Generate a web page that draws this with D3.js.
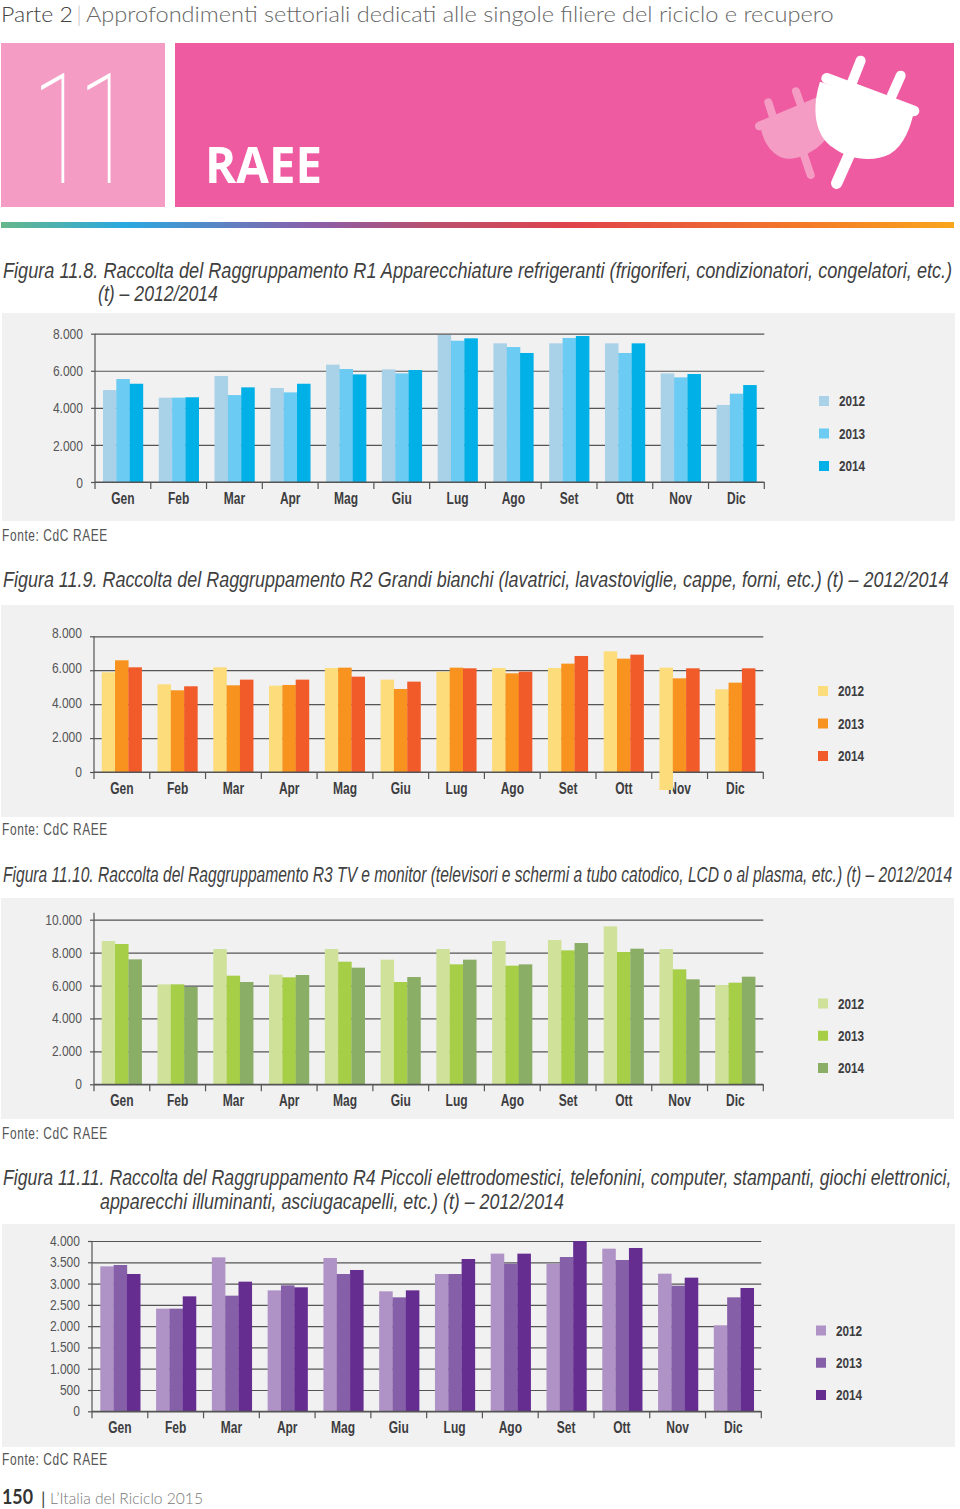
<!DOCTYPE html>
<html><head><meta charset="utf-8">
<script src="https://cdn.jsdelivr.net/npm/d3@7/dist/d3.min.js"></script>
<style>
html,body{margin:0;padding:0;background:#fff}
svg{display:block}
text{font-family:"Liberation Sans",sans-serif}
.domain{stroke:#555;stroke-width:1.2}
.tick line{stroke:#555;stroke-width:1.2}
</style></head><body><div id="c"></div>
<script>
const months=["Gen","Feb","Mar","Apr","Mag","Giu","Lug","Ago","Set","Ott","Nov","Dic"];
const years=["2012","2013","2014"];

const r1_2012=[4960,4550,5720,5070,6330,6075,7930,7480,7480,7480,5860,4155];
const r1_2013=[5555,4550,4690,4835,6095,5860,7620,7280,7770,6960,5645,4765];
const r1_2014=[5300,4570,5105,5300,5805,6040,7750,6960,7875,7480,5825,5230];

const r2_2012=[5877,5170,6172,5090,6133,5445,5916,6133,6133,7115,6152,4875];
const r2_2013=[6585,4816,5110,5130,6152,4894,6152,5818,6388,6683,5523,5268];
const r2_2014=[6172,5052,5445,5445,5622,5327,6113,5916,6840,6919,6113,6113];
const r2_2012_low=[0,0,0,0,0,0,0,0,0,0,-1060,0];

const r3_2012=[8704,6073,8219,6660,8219,7571,8219,8704,8765,9595,8219,6032];
const r3_2013=[8522,6073,6599,6498,7449,6215,7287,7206,8138,8036,6984,6174];
const r3_2014=[7591,5911,6215,6640,7085,6518,7571,7287,8583,8239,6377,6538];

const r4_2012=[3405,2411,3616,2841,3601,2818,3225,3703,3468,3820,3233,2020];
const r4_2013=[3436,2411,2716,2959,3225,2677,3225,3468,3624,3554,2951,2677];
const r4_2014=[3225,2700,3045,2912,3319,2841,3577,3703,4000,3836,3139,2896];

const ticks1=[0,2000,4000,6000,8000];
const ticks3=[0,2000,4000,6000,8000,10000];
const ticks4=[0,500,1000,1500,2000,2500,3000,3500,4000];

const W=960,H=1509;
const svg=d3.select("#c").append("svg").attr("width",W).attr("height",H);
const fmt=d3.formatLocale({thousands:".",decimal:",",grouping:[3],currency:["",""]}).format(",");

// text placed at (x,y) and squeezed horizontally to the width w
function fitted(x,y,w,t,size,fill,style){
  const el=svg.append("text").attr("font-size",size).attr("fill",fill).text(t);
  Object.entries(style||{}).forEach(([k,v])=>el.style(k,v));
  const n=el.node().getComputedTextLength();
  el.attr("transform",`translate(${x},${y}) scale(${w/n},1)`);
  return el;
}
// squeeze text around its own anchor
function squeeze(sel,s){
  sel.each(function(){
    const x=+this.getAttribute("x")||0;
    d3.select(this).attr("transform",`translate(${x*(1-s)},0) scale(${s},1)`);
  });
}

// ---- header
const hd={"font-family":"Lato","font-weight":300};
fitted(1,21.5,72,"Parte 2",21.5,"#444",hd);
fitted(78,21.5,2,"|",21.5,"#555",hd);
fitted(86,21.5,748,"Approfondimenti settoriali dedicati alle singole filiere del riciclo e recupero",21.5,"#666",hd);
svg.append("rect").attr("x",1).attr("y",43).attr("width",164).attr("height",164).attr("fill","#f49cc3");
svg.append("rect").attr("x",175).attr("y",43).attr("width",779).attr("height",164).attr("fill","#ef5ba1");
const eleven=svg.append("text").attr("transform","translate(32,183) scale(0.65,1)").attr("font-size",154).attr("fill","#fff")
  .style("font-family","Roboto").style("font-weight",100).text("11");
eleven.style("letter-spacing",(71-eleven.node().getComputedTextLength()/2)+"px");
fitted(205,183,117,"RAEE",51,"#fff",{"font-family":"'Open Sans'","font-weight":700});

// ---- plug icon (coordinates in crop space)
const icon=svg.append("g").attr("transform","translate(740,40) scale(0.3333)");
function plug(col,bar,barW,prongs,prongW,cord,cordW,body){
  const g=icon.append("g").attr("fill",col).attr("stroke",col).attr("stroke-linecap","round");
  const seg=(a,w)=>g.append("line").attr("x1",a[0]).attr("y1",a[1]).attr("x2",a[2]).attr("y2",a[3]).attr("stroke-width",w);
  prongs.forEach(p=>seg(p,prongW));
  seg(cord,cordW);
  g.append("path").attr("d",body).attr("stroke","none");
  seg(bar,barW);
}
plug("#f49cc3",[58,258,245,180],26,[[85,187,102,240],[168,154,188,210]],24,[190,340,212,405],24,
  "M62,262 C72,320 110,358 150,356 C190,354 240,325 262,290 L240,178 Z");
plug("#fff",[260,115,522,213],32,[[362,62,335,130],[482,107,452,175]],30,[330,340,290,430],34,
  "M240,125 C216,200 220,285 282,325 C330,360 400,368 450,342 C494,314 512,262 522,213 Z");

// ---- rainbow rule
const grad=svg.append("defs").append("linearGradient").attr("id","rb");
[[0,"#66b68a"],[0.13,"#2aa9e0"],[0.33,"#8b5ea8"],[0.45,"#b8506f"],[0.6,"#e0424a"],[0.85,"#f47c26"],[1,"#f9a61c"]]
  .forEach(s=>grad.append("stop").attr("offset",s[0]).attr("stop-color",s[1]));
svg.append("rect").attr("x",1).attr("y",222).attr("width",953).attr("height",6).attr("fill","url(#rb)");

// ---- captions
function caption(x,y,w,t){ fitted(x,y,w,t,21.5,"#3f3f3f",{"font-style":"italic"}); }
caption(3,278,950,"Figura 11.8. Raccolta del Raggruppamento R1 Apparecchiature refrigeranti (frigoriferi, condizionatori, congelatori, etc.)");
caption(98,301,120,"(t) – 2012/2014");
caption(3,587,946,"Figura 11.9. Raccolta del Raggruppamento R2 Grandi bianchi (lavatrici, lavastoviglie, cappe, forni, etc.) (t) – 2012/2014");
caption(3,882,950,"Figura 11.10. Raccolta del Raggruppamento R3 TV e monitor (televisori e schermi a tubo catodico, LCD o al plasma, etc.) (t) – 2012/2014");
caption(3,1185,949,"Figura 11.11. Raccolta del Raggruppamento R4 Piccoli elettrodomestici, telefonini, computer, stampanti, giochi elettronici,");
caption(100,1209,464,"apparecchi illuminanti, asciugacapelli, etc.) (t) – 2012/2014");

// ---- charts
function chart(o){
  svg.append("rect").attr("x",o.panel[0]).attr("y",o.panel[1]).attr("width",o.panel[2]-o.panel[0]).attr("height",o.panel[3]-o.panel[1]).attr("fill","#f1f1f2");
  const g=svg.append("g");
  const x=d3.scaleBand().domain(months).range([o.x0,o.x1]);
  const xi=d3.scaleBand().domain(years).range([o.inset,o.inset+40]);
  const y=d3.scaleLinear().domain([0,o.max]).range([o.y0,o.yT]);
  const yl=d3.scaleLinear().domain([0,o.max]).range([o.y0+o.lab0,o.yT+o.labT]);

  const grid=g.append("g").attr("transform",`translate(${o.x0},0)`)
    .call(d3.axisLeft(y).tickValues(o.ticks).tickSize(-(o.x1-o.x0)).tickFormat(""));
  grid.select(".domain").remove();
  const left=g.append("g").attr("transform",`translate(${o.x0},0)`)
    .call(d3.axisLeft(y).tickValues(o.ticks).tickSize(4).tickSizeOuter(0).tickFormat(""));
  left.select(".domain").attr("d",`M0,${o.y0}V${o.yAxisTop||o.yT}`);
  const labels=g.append("g").attr("transform",`translate(${o.x0},0)`)
    .call(d3.axisLeft(yl).tickValues(o.ticks).tickSize(0).tickPadding(12).tickFormat(fmt));
  labels.select(".domain").remove();
  labels.selectAll("text").attr("font-size",14).attr("fill","#555").style("font-family","'Liberation Sans'");
  squeeze(labels.selectAll("text"),0.86);

  const rows=months.map((m,i)=>years.map((yr,j)=>({m,yr,v:o.series[j][i],low:o.low&&j===0?o.low[i]:0}))).flat();
  const xb=g.append("g").attr("transform",`translate(0,${o.y0})`)
    .call(d3.axisBottom(x).tickSize(0).tickPadding(10.5));
  xb.select(".domain").remove();
  xb.selectAll("text").attr("font-size",16).attr("font-weight",700).attr("fill","#3d3d3f");
  squeeze(xb.selectAll("text"),0.75);

  g.append("g").selectAll("rect").data(rows).join("rect")
    .attr("x",d=>x(d.m)+xi(d.yr)).attr("width",xi.bandwidth()+0.2)
    .attr("y",d=>y(d.v)).attr("height",d=>y(0)-y(d.v))
    .attr("fill",d=>o.colors[years.indexOf(d.yr)]);

  const bottom=g.append("g").attr("transform",`translate(0,${o.y0})`);
  bottom.append("path").attr("d",`M${o.x0},0H${o.x1}`).attr("stroke","#555").attr("stroke-width",1.2);
  bottom.selectAll("line").data(d3.range(13)).join("line")
    .attr("x1",i=>i<12?x(months[i]):o.x1).attr("x2",i=>i<12?x(months[i]):o.x1)
    .attr("y1",0).attr("y2",7).attr("stroke","#555").attr("stroke-width",1.2);

  // bar part running below the axis
  g.append("g").selectAll("rect").data(rows.filter(d=>d.low<0)).join("rect")
    .attr("x",d=>x(d.m)+xi(d.yr)).attr("width",xi.bandwidth()+0.2)
    .attr("y",y(0)-1).attr("height",d=>y(d.low)-y(0)+1).attr("fill",o.colors[0]);

  const ly=d3.scalePoint().domain(years).range(o.legY);
  const lg=g.append("g").selectAll("g").data(years).join("g").attr("transform",d=>`translate(${o.legX},${ly(d)})`);
  lg.append("rect").attr("x",0).attr("y",-5).attr("width",10).attr("height",10).attr("fill",(d,i)=>o.colors[i]);
  const lt=lg.append("text").attr("x",20).attr("y",5).attr("font-size",14).attr("font-weight",700).attr("fill","#3d3d3f").text(d=>d);
  squeeze(lt,0.84);

  fitted(2,o.fonte,106,"Fonte: CdC RAEE",16,"#555",{"letter-spacing":"0.8px"});
}

chart({panel:[2,313,955,521],x0:95,x1:764.3,inset:8,y0:482,yT:333.7,max:8000,ticks:ticks1,lab0:1,labT:0,
  series:[r1_2012,r1_2013,r1_2014],colors:["#a9d1e7","#6ccbf2","#00b0e6"],legX:819,legY:[401,466],fonte:541});
chart({panel:[1,605,954,817],x0:94,x1:763.3,inset:7.7,y0:772,yT:636.3,max:8000,ticks:ticks1,lab0:0,labT:-3,low:r2_2012_low,
  series:[r2_2012,r2_2013,r2_2014],colors:["#fddc7b","#f7931e","#f15a29"],legX:818,legY:[691,756],fonte:835});
chart({panel:[1,898,954,1119],x0:94,x1:763.3,inset:7.7,y0:1084.3,yT:919.7,yAxisTop:912.7,max:10000,ticks:ticks3,lab0:0,labT:0,
  series:[r3_2012,r3_2013,r3_2014],colors:["#d0e29a","#a6ce47","#8bae67"],legX:818,legY:[1003.5,1068],fonte:1139});
chart({panel:[2,1224,955,1447],x0:92,x1:761.3,inset:8.3,y0:1411.3,yT:1241,max:4000,ticks:ticks4,lab0:0,labT:0,
  series:[r4_2012,r4_2013,r4_2014],colors:["#b093c6","#8560a8","#662d91"],legX:816,legY:[1330.5,1395],fonte:1465});

// ---- footer
fitted(2,1504,31,"150",20,"#333",{"font-family":"Lato","font-weight":700});
svg.append("text").attr("x",41).attr("y",1505).attr("font-size",18).attr("fill","#444").style("font-family","Lato").text("|");
fitted(50,1504,153,"L’Italia del Riciclo 2015",16,"#777",{"font-family":"Lato","font-weight":300});
</script></body></html>
